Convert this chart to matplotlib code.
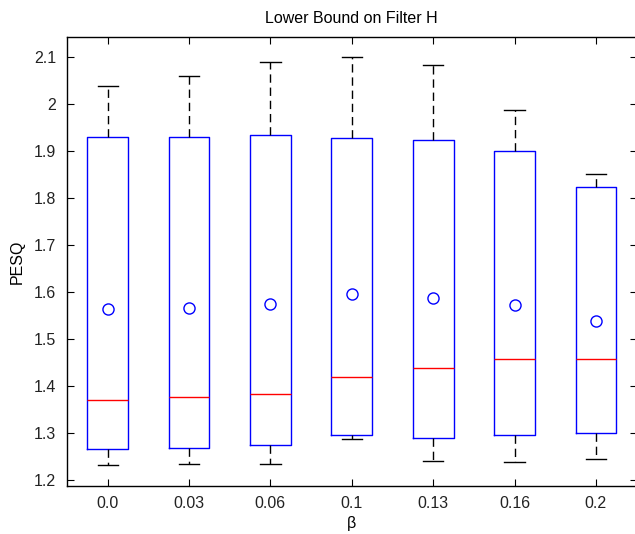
import matplotlib.pyplot as plt

# PESQ per beta value
betas = ["0.0", "0.03", "0.06", "0.1", "0.13", "0.16", "0.2"]
q1 = [1.265, 1.267, 1.274, 1.296, 1.290, 1.296, 1.301]
q3 = [1.930, 1.930, 1.935, 1.927, 1.923, 1.899, 1.823]
medians = [1.371, 1.377, 1.382, 1.419, 1.438, 1.458, 1.458]
means = [1.563, 1.566, 1.575, 1.595, 1.587, 1.572, 1.538]
whislo = [1.232, 1.235, 1.235, 1.288, 1.240, 1.238, 1.245]
whishi = [2.038, 2.060, 2.089, 2.099, 2.083, 1.988, 1.852]

stats = []
for i in range(len(betas)):
    stats.append({
        "label": betas[i],
        "q1": q1[i], "q3": q3[i], "med": medians[i], "mean": means[i],
        "whislo": whislo[i], "whishi": whishi[i], "fliers": [],
    })

plt.rcParams["font.family"] = "Liberation Sans"

fig = plt.figure(figsize=(6.35, 5.34), dpi=100)
ax = fig.add_axes([0.1055, 0.0899, 0.897, 0.8408])

ax.bxp(
    stats, showmeans=True, widths=0.5,
    boxprops=dict(color="#0000ff", linewidth=1.0),
    medianprops=dict(color="#ff0000", linewidth=1.0),
    whiskerprops=dict(color="black", linestyle=(0, (6, 3.5)), linewidth=1.0),
    capprops=dict(color="black", linewidth=1.0),
    capwidths=0.25,
    meanprops=dict(marker="o", markerfacecolor="none", markeredgecolor="#0000ff",
                   markersize=8, markeredgewidth=1.0),
)

ax.set_xlim(0.5, 7.5)
ax.set_ylim(1.1872, 2.1426)
ax.set_yticks([1.2, 1.3, 1.4, 1.5, 1.6, 1.7, 1.8, 1.9, 2.0, 2.1])
ax.set_yticklabels(["1.2", "1.3", "1.4", "1.5", "1.6", "1.7", "1.8", "1.9", "2", "2.1"])
ax.tick_params(direction="in", top=True, right=True, length=5, labelsize=11.5,
               colors="black", labelcolor="#222222")
ax.tick_params(axis="y", pad=8)
ax.tick_params(axis="x", pad=7)
for s in ax.spines.values():
    s.set_linewidth(1.0)

ax.set_title("Lower Bound on Filter H", fontsize=11.5, pad=10)
ax.set_ylabel("PESQ", fontsize=11.5, labelpad=6)
ax.set_xlabel("β", fontsize=11.5, labelpad=4)

fig.savefig("out.png", dpi=100)
